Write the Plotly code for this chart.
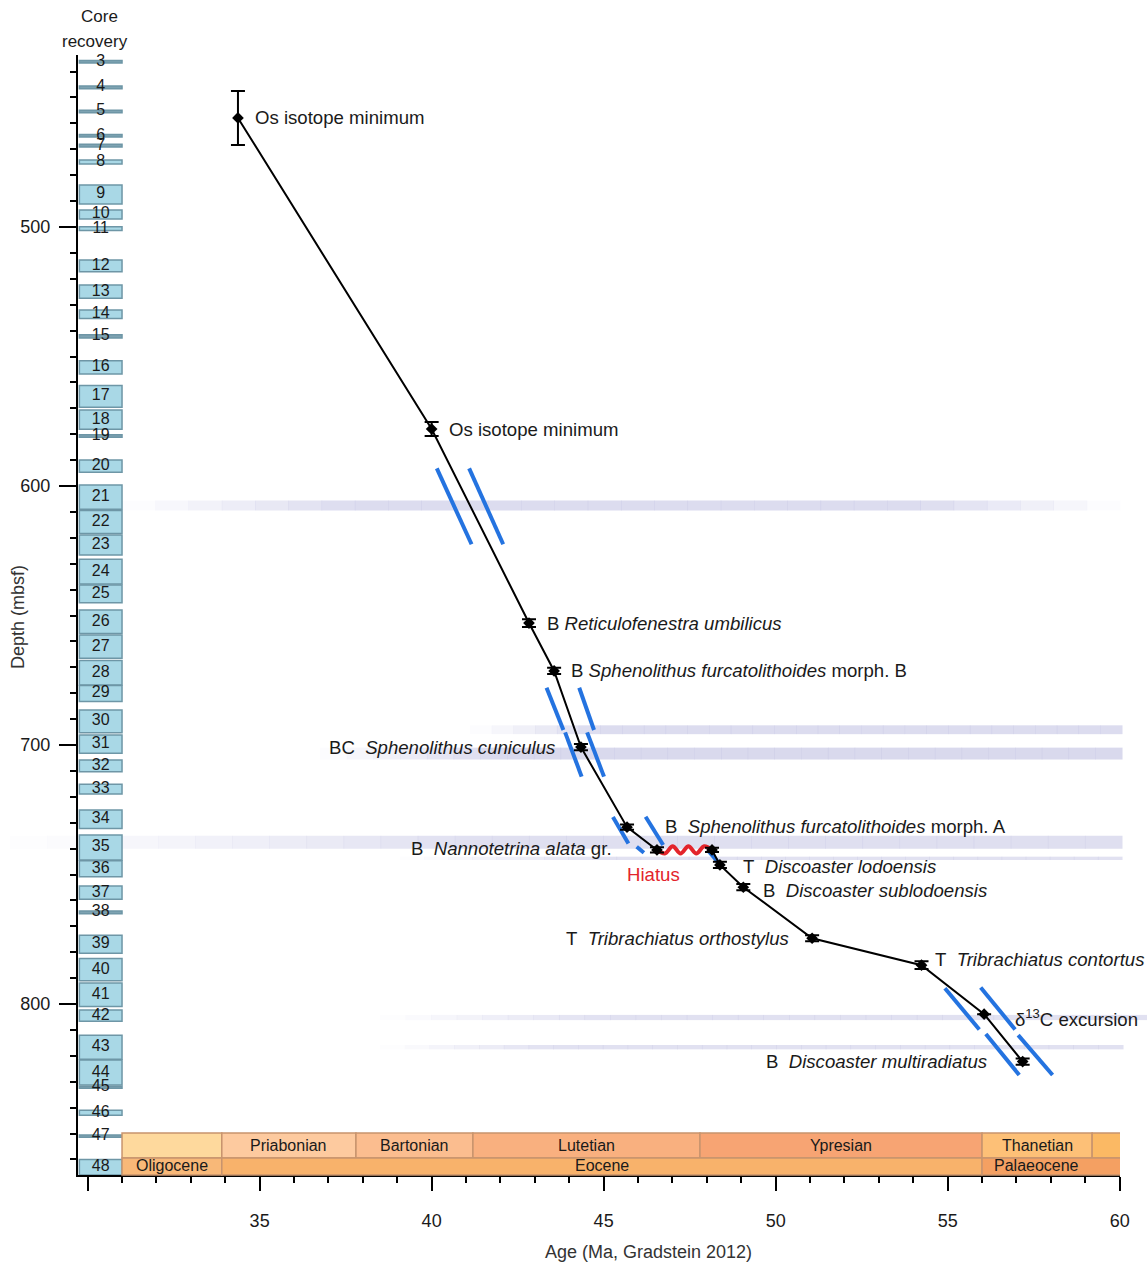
import plotly.graph_objects as go
import numpy as np

# ---------------- data ----------------
core_num = [3, 4, 5, 6, 7, 8, 9, 10, 11, 12, 13, 14, 15, 16, 17, 18, 19, 20, 21, 22, 23, 24, 25,
            26, 27, 28, 29, 30, 31, 32, 33, 34, 35, 36, 37, 38, 39, 40, 41, 42, 43, 44, 45, 46, 47, 48]
core_top = [435.7, 445.6, 454.9, 464.3, 468.1, 474.1, 483.8, 493.4, 499.9, 512.7, 522.4, 532.0,
            541.6, 551.6, 561.2, 570.7, 580.2, 590.0, 599.6, 609.5, 618.9, 628.3, 638.2, 647.9,
            657.5, 667.4, 677.0, 686.5, 696.1, 705.8, 715.1, 725.1, 734.7, 744.7, 754.4, 764.1,
            773.4, 782.4, 791.9, 802.3, 812.0, 821.6, 831.7, 841.0, 850.6, 860.0]
core_bot = [436.7, 446.6, 455.9, 465.3, 469.1, 475.7, 491.1, 496.9, 501.4, 517.3, 527.5, 535.3,
            542.9, 556.8, 569.6, 578.1, 581.2, 594.7, 609.0, 618.3, 626.6, 637.8, 645.1, 656.9,
            666.5, 676.8, 683.2, 695.3, 703.2, 710.3, 718.9, 732.2, 744.4, 750.9, 759.5, 765.1,
            780.4, 791.0, 800.9, 806.6, 821.3, 831.3, 832.5, 842.9, 851.4, 866.0]

event_age = [34.37, 40.00, 42.83, 43.56, 44.34, 45.68, 46.55, 48.15, 48.38, 49.06, 51.06, 54.24, 56.06, 57.18]
event_depth = [457.9, 578.0, 652.9, 671.4, 700.8, 731.7, 740.5, 740.5, 746.3, 754.9, 774.6, 785.0, 803.9, 822.2]
event_err = [10.4, 2.7, 1.5, 1.2, 1.2, 1.0, 1.0, 0.8, 1.2, 1.2, 1.2, 1.5, 0.0, 1.2]
event_label = [
    "Os isotope minimum",
    "Os isotope minimum",
    "B <i>Reticulofenestra umbilicus</i>",
    "B <i>Sphenolithus furcatolithoides</i> morph. B",
    "BC\u00a0\u00a0<i>Sphenolithus cuniculus</i>",
    "B\u00a0\u00a0<i>Sphenolithus furcatolithoides</i> morph. A",
    "B\u00a0\u00a0<i>Nannotetrina alata</i> gr.",
    "",
    "T\u00a0\u00a0<i>Discoaster lodoensis</i>",
    "B\u00a0\u00a0<i>Discoaster sublodoensis</i>",
    "T\u00a0\u00a0<i>Tribrachiatus orthostylus</i>",
    "T\u00a0\u00a0<i>Tribrachiatus contortus</i>",
    "\u03b4<sup>13</sup>C excursion",
    "B\u00a0\u00a0<i>Discoaster multiradiatus</i>",
]

hiatus_age = [46.55, 48.15]
hiatus_depth = [740.5, 740.5]

stage_names = ["", "Priabonian", "Bartonian", "Lutetian", "Ypresian", "Thanetian", ""]
stage_start = [31.0, 33.9, 37.8, 41.2, 47.8, 56.0, 59.2]
stage_end = [33.9, 37.8, 41.2, 47.8, 56.0, 59.2, 60.1]
epoch_names = ["Oligocene", "Eocene", "Palaeocene"]
epoch_start = [31.0, 33.9, 56.0]
epoch_end = [33.9, 56.0, 60.1]

horizon_top = [605.6, 692.4, 701.0, 735.0, 743.1, 804.2, 815.8]
horizon_bot = [609.5, 695.8, 705.6, 740.0, 744.4, 806.2, 817.5]

# blue correlation-break segments (age0, depth0, age1, depth1)
break_age0 = [40.15, 41.09, 43.34, 43.88, 44.29, 44.52, 45.27, 45.96, 46.22, 48.05, 54.92, 56.11, 55.96, 57.05]
break_depth0 = [593.2, 593.2, 677.9, 695.1, 677.9, 695.1, 727.8, 739.3, 727.7, 741.0, 793.9, 811.6, 793.6, 812.0]
break_age1 = [41.16, 42.08, 43.83, 44.36, 44.72, 45.01, 45.72, 46.17, 46.73, 48.38, 55.92, 57.08, 56.96, 58.05]
break_depth1 = [622.5, 622.5, 694.2, 712.2, 694.2, 712.2, 738.0, 741.6, 738.6, 746.0, 809.8, 827.4, 809.8, 827.4]

# ---------------- layout constants ----------------
W, H = 1147, 1267
ML, MR, MT, MB = 78, 27, 55, 92
PW = W - ML - MR
PH = H - MT - MB
XR = [29.72, 60.01]
YR = [866.0, 433.6]
FONT = "Liberation Sans, Arial, Helvetica, sans-serif"
TXT = "#1a1a1a"
LFS = 18.6

def px_to_paper_x(px):
    return (px - ML) / PW

def px_to_paper_y(py):
    return (H - MB - py) / PH

fig = go.Figure()
shapes = []
annotations = []

# ---- horizons (faded lavender bands) ----
band_px = [(122, 1120, 230, 200), (470, 1122, 130, 0), (320, 1122, 180, 0), (10, 1122, 480, 0),
           (400, 1122, 200, 0), (380, 1147, 220, 0), (380, 1123, 170, 0)]
band_max = [0.6, 0.6, 0.65, 0.55, 0.5, 0.5, 0.5]
for i in range(len(horizon_top)):
    x0, x1, fin, fout = band_px[i]
    n = 30
    edges = np.linspace(x0, x1, n + 1)
    for k in range(n):
        mid = 0.5 * (edges[k] + edges[k + 1])
        a = 1.0
        if fin > 0 and mid < x0 + fin:
            a = min(a, (mid - x0) / fin)
        if fout > 0 and mid > x1 - fout:
            a = min(a, (x1 - mid) / fout)
        a = max(a, 0.05) * band_max[i]
        shapes.append(dict(type="rect", xref="paper", yref="y",
                           x0=px_to_paper_x(edges[k]), x1=px_to_paper_x(edges[k + 1]) + 0.0005,
                           y0=horizon_top[i], y1=horizon_bot[i],
                           fillcolor="rgb(196,196,228)", opacity=a, line=dict(width=0), layer="below"))

# ---- core recovery boxes (below traces so the numbers stay visible) ----
for t, b in zip(core_top, core_bot):
    thin = (b - t) < 1.3
    shapes.append(dict(type="rect", xref="x", yref="y", x0=29.76, x1=31.0, y0=t, y1=b,
                       fillcolor="#7ea3b2" if thin else "#a9d8e6",
                       line=dict(color="#6e96a6", width=1.5), layer="below"))
fig.add_trace(go.Scatter(
    x=[30.38] * len(core_num), y=[(t + b) / 2 for t, b in zip(core_top, core_bot)],
    mode="text", text=[str(c) for c in core_num],
    textfont=dict(family=FONT, size=16, color=TXT), textposition="middle center",
    hoverinfo="skip", showlegend=False, cliponaxis=False))

# ---- chronostratigraphy ----
stage_cols = ["#fed99d", "#fdca9f", "#fbbd8f", "#f9b07f", "#f7a473", "#fdc077", "#fbb964"]
epoch_cols = ["#f8b878", "#f8b26b", "#f4a062"]
row_mid = px_to_paper_y(1158)
row_top = px_to_paper_y(1133)
row_bot = 0.0
for i in range(len(stage_names)):
    shapes.append(dict(type="rect", xref="x", yref="paper", x0=stage_start[i], x1=stage_end[i],
                       y0=row_mid, y1=row_top, fillcolor=stage_cols[i],
                       line=dict(color="#c8946e", width=1.5), layer="above"))
    if stage_names[i]:
        annotations.append(dict(x=(stage_start[i] + stage_end[i]) / 2, y=(row_mid + row_top) / 2,
                                xref="x", yref="paper", text=stage_names[i], showarrow=False,
                                font=dict(family=FONT, size=16, color=TXT),
                                xanchor="center", yanchor="middle"))
epoch_label_x = [None, None, 57.57]
for i in range(len(epoch_names)):
    shapes.append(dict(type="rect", xref="x", yref="paper", x0=epoch_start[i], x1=epoch_end[i],
                       y0=row_bot, y1=row_mid, fillcolor=epoch_cols[i],
                       line=dict(color="#c8946e", width=1.5), layer="above"))
    lx = epoch_label_x[i] if epoch_label_x[i] else (epoch_start[i] + epoch_end[i]) / 2
    annotations.append(dict(x=lx, y=(row_bot + row_mid) / 2 + 0.0005, xref="x", yref="paper",
                            text=epoch_names[i], showarrow=False,
                            font=dict(family=FONT, size=16, color=TXT),
                            xanchor="center", yanchor="middle"))

# ---- blue break lines ----
bx, by = [], []
for a0, d0, a1, d1 in zip(break_age0, break_depth0, break_age1, break_depth1):
    bx += [a0, a1, None]
    by += [d0, d1, None]
fig.add_trace(go.Scatter(x=bx, y=by, mode="lines", line=dict(color="#2473e0", width=4),
                         hoverinfo="skip", showlegend=False))

# ---- age-depth line (broken at hiatus) ----
lx, ly = [], []
for i, (a, d) in enumerate(zip(event_age, event_depth)):
    lx.append(a)
    ly.append(d)
    if a == hiatus_age[0]:
        lx.append(None)
        ly.append(None)
fig.add_trace(go.Scatter(x=lx, y=ly, mode="lines", line=dict(color="black", width=2),
                         hoverinfo="skip", showlegend=False))

# ---- hiatus wave (decorative symbol between hiatus ends) ----
nw = 8
wx = np.linspace(hiatus_age[0], hiatus_age[1], nw)
wy = [hiatus_depth[0] + (0 if k in (0, nw - 1) else (1.4 if k % 2 else -1.4)) for k in range(nw)]
fig.add_trace(go.Scatter(x=wx, y=wy, mode="lines", line=dict(color="#e3242b", width=4, shape="spline"),
                         hoverinfo="skip", showlegend=False))

# ---- event markers with error bars ----
fig.add_trace(go.Scatter(
    x=event_age, y=event_depth, mode="markers",
    marker=dict(symbol="diamond", size=9, color="black"),
    error_y=dict(type="data", array=event_err, visible=True, color="black", thickness=2, width=7),
    hoverinfo="skip", showlegend=False))

# ---- event labels ----
label_dx = [15, 15, 16, 15, -24, 36, -43, 0, 21, 18, -21, 11, 29, -34]
label_dy = [0, 0, 0, 0, 0, 1, 1, 0, -2, -3, 0, 6, -4, 0]
for i, lab in enumerate(event_label):
    if not lab:
        continue
    annotations.append(dict(x=event_age[i], y=event_depth[i], xref="x", yref="y", text=lab,
                            showarrow=False, xanchor="left" if label_dx[i] > 0 else "right",
                            yanchor="middle", xshift=label_dx[i], yshift=label_dy[i],
                            font=dict(family=FONT, size=LFS, color=TXT)))
annotations.append(dict(x=hiatus_age[0], y=hiatus_depth[0], xref="x", yref="y", text="Hiatus",
                        showarrow=False, xanchor="center", yanchor="middle", xshift=-3, yshift=-25,
                        font=dict(family=FONT, size=LFS, color="#e3242b")))

# ---- titles ----
annotations.append(dict(x=px_to_paper_x(99), y=px_to_paper_y(16), xref="paper", yref="paper",
                        text="Core", showarrow=False, xanchor="center", yanchor="middle",
                        font=dict(family=FONT, size=17, color=TXT)))
annotations.append(dict(x=px_to_paper_x(95), y=px_to_paper_y(42), xref="paper", yref="paper",
                        text="recovery", showarrow=False, xanchor="center", yanchor="middle",
                        font=dict(family=FONT, size=17, color=TXT)))
annotations.append(dict(x=px_to_paper_x(18), y=px_to_paper_y(617), xref="paper", yref="paper",
                        text="Depth (mbsf)", showarrow=False, textangle=-90,
                        xanchor="center", yanchor="middle",
                        font=dict(family=FONT, size=18, color="#333333")))
annotations.append(dict(x=px_to_paper_x(648), y=px_to_paper_y(1252), xref="paper", yref="paper",
                        text="Age (Ma, Gradstein 2012)", showarrow=False,
                        xanchor="center", yanchor="middle",
                        font=dict(family=FONT, size=18, color="#333333")))

fig.update_layout(
    width=W, height=H, margin=dict(l=ML, r=MR, t=MT, b=MB),
    paper_bgcolor="white", plot_bgcolor="white",
    shapes=shapes, annotations=annotations, showlegend=False,
    font=dict(family=FONT, color=TXT),
    xaxis=dict(range=XR, showgrid=False, zeroline=False, showline=True, linecolor="black",
               linewidth=2, ticks="outside", ticklen=14, tickwidth=2, tickcolor="black",
               tickmode="array", tickvals=[30, 35, 40, 45, 50, 55, 60],
               ticktext=["", "35", "40", "45", "50", "55", "60"],
               tickfont=dict(family=FONT, size=18, color=TXT), ticklabelstandoff=14,
               minor=dict(ticks="outside", ticklen=6, tickwidth=1.5, tickcolor="black",
                          tickmode="linear", tick0=30, dtick=1, showgrid=False)),
    yaxis=dict(range=YR, showgrid=False, zeroline=False, showline=True, linecolor="black",
               linewidth=2, ticks="outside", ticklen=17, tickwidth=2, tickcolor="black",
               tickmode="array", tickvals=[500, 600, 700, 800],
               tickfont=dict(family=FONT, size=18, color=TXT), ticklabelstandoff=5,
               minor=dict(ticks="outside", ticklen=6, tickwidth=1.5, tickcolor="black",
                          tickmode="linear", tick0=440, dtick=10, showgrid=False)),
)

fig.write_html("out.html", config={"displayModeBar": False},
               post_script="document.body.style.margin='0px';document.body.style.overflow='hidden';")
